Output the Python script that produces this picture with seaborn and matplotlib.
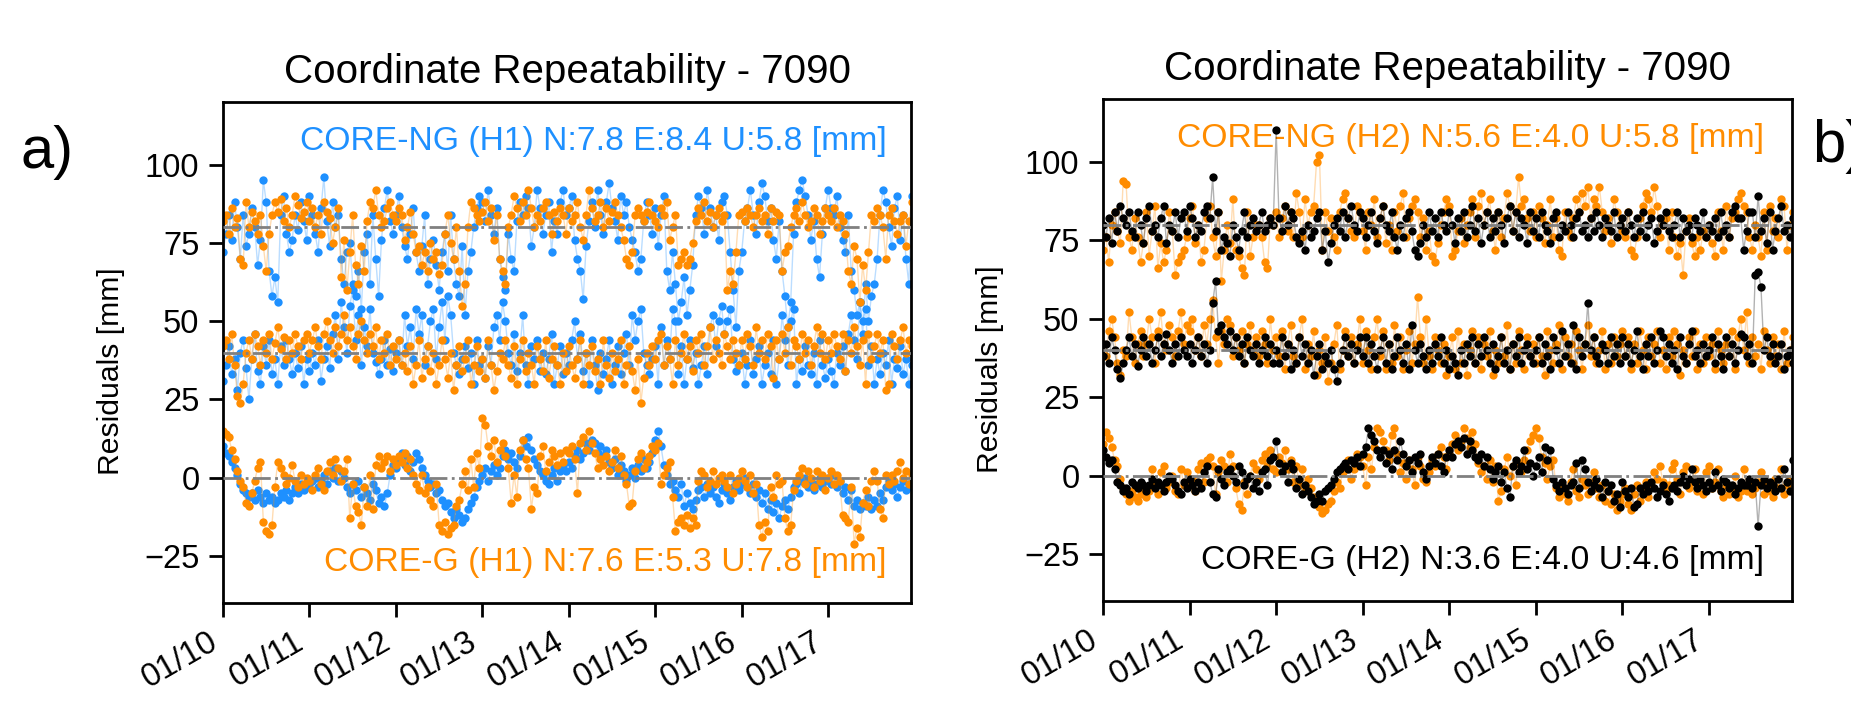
import matplotlib
matplotlib.use("Agg")
import matplotlib.dates as mdates
import matplotlib.pyplot as plt
import pandas as pd
import seaborn as sns

# --- valores (30 amostras por dia, 8 dias) ---
h1_ng_n = [72,78,84,76,88,80,70,84,74,78,86,80,68,76,95,88,66,58,64,56,84,90,78,72,76,84,79,88,82,76,
           90,84,78,72,86,96,82,74,88,80,84,70,62,72,75,62,58,66,54,72,78,62,84,70,58,76,86,92,82,78,
           84,90,80,74,70,78,86,72,66,74,84,62,70,76,68,60,72,78,66,84,70,62,58,74,52,66,72,80,86,90,
           88,82,92,84,78,86,70,64,60,78,70,66,82,88,84,90,86,74,80,92,86,78,84,88,72,82,78,88,92,84,
           86,90,76,70,66,57,74,82,88,80,92,84,78,88,94,86,82,76,90,84,88,80,76,72,66,70,82,88,84,78,
           86,74,84,90,66,60,72,62,50,56,64,52,60,68,84,90,86,78,92,86,80,84,76,88,90,84,72,60,48,66,
           72,82,86,92,84,78,88,94,90,82,86,76,70,82,66,58,48,56,78,88,92,95,90,84,76,82,70,64,78,86,
           92,86,84,90,80,76,72,84,66,60,52,56,46,62,50,58,62,70,84,92,88,80,74,86,90,76,84,70,62,90]
h1_ng_e = [31,36,42,33,38,28,40,44,35,25,38,46,34,30,42,36,44,33,38,30,42,36,44,38,33,40,35,42,30,38,
           34,40,36,44,31,38,42,35,46,52,38,56,48,40,55,60,44,52,36,48,42,54,40,37,33,38,44,36,41,34,
           40,44,36,52,42,48,38,54,46,52,36,42,50,54,38,48,56,44,58,52,40,36,33,38,42,35,40,30,44,36,
           38,32,42,36,48,52,44,56,50,40,36,46,34,40,52,36,30,42,38,44,34,40,33,38,46,30,36,42,33,40,
           36,44,50,38,46,34,40,30,44,36,28,40,33,38,44,30,36,42,33,40,46,36,52,44,50,54,40,36,33,38,
           42,30,48,36,44,38,54,50,33,42,30,38,44,35,40,30,36,42,33,48,52,42,50,55,46,50,54,38,34,36,
           40,30,36,44,33,38,42,30,36,40,33,44,30,38,52,44,36,50,54,30,38,34,42,36,33,40,30,44,36,32,
           38,34,30,40,36,42,34,46,52,44,38,56,50,54,36,42,30,38,33,40,36,44,30,38,35,42,33,38,30,36]
h1_ng_u = [10,8,7,5,3,1,-2,-4,-5,-6,-5,-7,-4,-6,-8,-5,-7,-6,-8,-7,-5,-6,-4,-7,-5,-3,-5,-2,-4,-3,
           -2,-1,0,-3,-1,1,-2,2,0,3,-1,2,0,-3,-5,-2,-4,-1,-6,-3,-5,-7,-2,-4,-8,-6,-9,-5,1,4,
           3,6,8,4,7,2,5,8,6,3,1,-1,-3,-2,-5,-4,-7,-9,-8,-11,-13,-10,-12,-14,-13,-10,-8,-6,-3,-1,
           1,3,-1,2,4,1,3,7,9,6,8,5,3,7,12,10,13,9,6,4,2,1,-1,-2,1,3,-1,2,4,2,
           5,3,7,9,6,8,11,9,12,11,8,10,7,9,5,3,6,1,4,2,-1,1,3,0,4,2,6,3,5,8,
           12,15,10,4,1,-2,-1,-4,-6,-2,-9,-5,-8,-10,-7,-4,-3,-6,-2,-5,-3,-6,-8,-4,-2,-5,-7,-3,-1,-4,
           -2,0,-3,-5,-2,-6,-4,-8,-5,-10,-7,-11,-8,-13,-9,-7,-10,-6,-3,-2,-5,-1,0,-3,-1,-4,-2,0,-3,-1,
           0,-2,1,-3,-1,-5,-3,-7,-4,-9,-7,-10,-8,-9,-6,-10,-7,-9,-5,-7,-3,-1,-4,-2,-6,-3,-1,-4,-2,-3]
h1_g_n = [82,84,78,86,80,83,70,68,88,80,85,82,78,84,74,66,78,84,88,85,89,82,86,80,84,90,87,83,85,88,
          82,86,80,84,78,88,85,83,75,80,86,64,76,60,72,84,68,62,74,66,82,88,86,92,84,80,82,86,88,84,
          82,86,84,76,80,85,78,72,74,68,72,66,75,70,72,65,68,78,84,75,70,80,66,55,62,80,88,86,84,82,
          85,88,82,86,76,84,70,66,62,80,84,90,86,82,88,84,92,86,80,84,82,86,88,84,78,85,82,86,84,78,
          86,82,84,88,80,76,84,92,86,82,84,88,80,86,82,85,88,84,80,76,70,68,72,84,86,84,82,85,88,84,
          82,80,86,84,88,76,80,84,68,70,72,68,70,75,82,86,84,88,82,85,80,84,86,82,84,60,66,62,72,84,
          85,82,86,84,80,84,86,82,84,78,86,82,85,84,66,72,74,80,84,86,82,88,84,80,82,86,84,78,82,86,
          84,82,86,80,84,82,78,66,62,74,70,56,68,60,72,84,82,86,84,80,70,84,86,82,78,82,84,74,82,88]
h1_g_e = [42,44,38,46,36,26,24,30,40,44,38,46,42,36,44,40,46,38,43,48,41,45,38,44,40,46,42,38,44,46,
          40,44,48,42,38,46,50,44,40,48,42,46,52,44,48,42,38,46,50,44,40,46,42,48,38,44,40,46,36,42,
          38,44,36,40,34,42,30,36,44,32,38,42,34,40,30,36,44,38,32,40,28,36,42,34,38,44,30,36,42,34,
          38,32,44,36,28,34,40,38,44,36,32,42,30,38,44,34,40,36,30,42,38,34,44,32,38,42,36,30,40,34,
          42,36,32,38,44,30,40,36,42,34,38,30,44,36,32,40,34,38,44,30,36,42,34,28,38,24,32,40,36,42,
          38,44,46,36,42,38,30,44,36,40,46,38,42,34,44,40,46,36,42,48,38,44,40,36,46,42,38,44,40,36,
          44,38,46,42,36,48,40,44,38,46,42,32,44,38,46,40,48,36,44,42,38,46,40,44,36,42,48,40,46,38,
          44,40,46,42,38,46,34,44,40,48,42,36,44,30,46,38,42,46,40,44,28,30,46,42,38,44,48,40,44,42]
h1_g_u = [15,14,13,9,6,2,-1,-3,-8,-9,-5,-1,3,5,-14,-17,-18,-15,-3,5,3,1,-2,0,4,-1,-3,1,-2,0,
          -1,-4,1,3,-2,-4,2,5,1,6,3,-1,2,6,-13,-2,-9,-11,-15,-3,-9,1,-10,4,7,3,5,7,2,6,
          4,7,5,8,3,6,1,-2,-4,1,-5,-3,-7,-9,-2,-15,-17,-14,-18,-16,-15,-9,-7,-2,2,-4,6,-3,8,3,
          19,17,10,7,12,5,9,11,7,3,-8,1,-6,9,12,6,3,-10,-3,-5,7,10,2,5,9,7,4,8,5,9,
          8,10,6,-5,11,13,9,15,11,8,3,6,4,7,2,5,9,3,7,1,-2,-9,-8,2,6,8,3,5,7,10,
          9,11,-2,1,3,5,-6,-17,-14,-13,-15,-12,-16,-13,-15,-1,2,1,-3,-1,2,-2,0,1,-1,-3,1,-5,-2,0,
          2,-1,-3,1,-5,-2,-15,-19,-14,-17,-3,-6,1,-2,-1,-13,-17,-15,-4,-1,1,3,-2,2,0,-3,2,-1,1,-4,
          0,2,-2,1,-1,-12,-13,-14,-3,-21,-16,-19,-8,-4,-9,-1,2,-1,-10,-13,1,-2,1,-1,2,5,0,2,-2,1]

h2_ng_n = [72,76,68,80,84,78,74,94,93,76,72,82,76,68,74,84,70,78,86,66,74,68,72,84,78,64,68,70,72,76,
           82,86,74,80,68,72,82,86,76,70,84,62,72,80,74,88,72,70,66,64,84,70,76,80,80,76,68,66,82,80,
           84,76,82,86,78,84,76,90,84,76,88,80,84,86,100,102,72,84,78,82,76,72,84,88,90,82,78,76,86,84,
           78,72,84,80,88,76,82,86,74,80,72,84,78,86,90,76,82,86,88,84,76,82,72,78,70,68,74,80,84,88,
           86,70,72,78,82,74,80,84,88,76,86,90,80,84,88,78,72,84,76,82,90,86,78,84,95,86,88,82,78,84,
           76,86,82,74,80,88,76,82,72,70,84,78,76,82,88,84,90,86,92,82,88,86,92,84,78,82,74,88,84,80,
           78,76,84,72,70,76,82,86,90,88,84,92,86,76,80,82,72,84,76,70,74,64,78,82,74,70,76,72,78,76,
           80,74,70,84,78,72,86,76,82,84,88,90,86,84,76,72,80,76,70,84,72,86,78,82,76,88,86,72,80,84]
h2_ng_e = [42,38,46,50,44,36,32,40,38,52,44,36,42,46,38,42,50,44,36,46,52,42,40,48,44,38,46,52,42,48,
           46,50,40,44,38,48,42,50,56,44,36,46,42,50,48,38,44,40,46,36,42,48,40,44,38,46,42,36,50,40,
           44,38,46,34,42,48,38,36,44,50,34,42,38,46,32,40,36,44,30,36,42,48,34,40,46,38,44,36,42,50,
           36,46,40,34,44,50,38,46,34,42,36,48,38,44,34,40,46,36,42,57,44,36,50,38,34,44,40,36,42,32,
           38,44,34,46,36,42,32,40,46,36,44,34,42,38,46,32,40,36,44,38,48,34,42,36,46,40,34,44,38,42,
           36,44,38,32,46,40,36,42,48,34,44,38,42,36,46,40,34,42,48,38,44,36,40,46,34,42,36,44,38,42,
           46,38,44,34,42,36,46,40,34,44,38,42,46,36,40,34,44,38,46,42,32,40,36,44,38,46,34,42,36,44,
           38,42,34,46,40,36,42,38,46,34,44,50,40,52,36,44,38,42,34,46,40,36,44,38,42,34,46,36,40,44]
h2_ng_u = [10,14,12,9,5,3,-1,-4,-6,-8,-5,-7,-8,-6,-4,-7,-5,2,-3,-6,1,3,-4,-2,0,-5,-6,2,-3,1,
           -3,-1,-5,2,4,-2,5,6,3,-6,1,5,3,-2,7,3,-4,-9,-11,-2,-6,0,4,2,-1,5,7,3,8,2,
           1,6,4,8,2,5,-2,3,-3,2,-5,-1,-4,-7,-9,-10,-12,-11,-9,-8,-5,-2,-4,1,3,5,-1,2,7,6,
           3,-3,6,2,9,15,14,11,8,5,13,15,7,1,4,-1,5,2,-3,6,3,-1,-2,1,5,3,7,9,6,2,
           7,10,13,8,11,15,12,9,14,10,4,1,3,-1,5,-2,3,-8,-5,2,6,0,3,-3,4,1,5,8,11,13,
           15,12,6,4,-1,3,5,-4,-7,-3,-6,-8,-2,2,-5,-7,-1,-3,-6,-2,1,-4,-7,-3,-8,-5,-9,-6,-11,-8,
           -6,-4,-9,-11,-6,-3,-8,-5,-2,-7,-3,1,-1,3,-2,-5,-3,2,4,-1,-6,1,3,-4,-2,2,-5,-3,-6,1,
           3,-4,-2,2,-5,-7,-3,-6,-4,0,-7,-5,2,-5,-3,-6,-4,-2,1,-6,-3,-5,-7,-1,-4,2,-6,-3,-1,-5]
h2_g_n = [80,76,82,74,84,78,86,82,80,84,78,76,84,80,74,82,86,78,80,76,82,86,74,80,78,84,76,82,84,78,
          86,82,76,80,78,84,86,82,95,78,84,72,76,74,70,80,76,72,78,84,76,80,82,78,80,84,78,80,82,80,
          110,82,78,86,80,84,82,76,74,78,72,80,76,78,82,84,72,78,68,74,80,82,78,84,76,82,86,80,78,84,
          82,76,80,84,78,74,82,86,80,78,84,76,72,80,76,82,84,78,72,70,74,80,76,84,78,82,76,84,80,78,
          84,80,74,82,78,84,76,80,86,78,82,74,80,84,76,82,78,84,80,74,82,86,78,84,76,82,80,74,84,78,
          82,76,84,80,78,74,82,84,76,80,78,84,80,76,82,84,78,80,76,82,78,84,80,76,82,80,78,84,76,80,
          82,78,84,80,76,82,78,84,76,80,82,74,78,82,80,84,78,76,80,84,76,82,78,80,76,82,80,78,84,76,
          80,78,82,76,84,78,80,76,84,86,82,82,72,78,84,84,76,89,78,82,74,84,72,78,82,86,78,80,76,82]
h2_g_e = [38,42,36,44,40,34,31,36,40,44,38,42,35,40,44,38,42,36,40,44,38,42,45,40,36,42,38,44,40,38,
          42,36,40,44,38,42,36,40,55,62,46,48,44,42,46,40,44,38,42,36,44,40,38,42,36,40,44,38,42,36,
          40,36,44,38,42,34,40,36,44,38,42,36,40,32,38,42,34,38,36,40,34,30,36,40,44,38,42,36,40,44,
          38,44,36,42,38,34,40,44,36,42,34,38,44,40,36,42,34,48,40,36,42,38,34,40,36,42,38,44,36,40,
          34,38,36,32,40,36,42,38,44,36,42,38,44,40,36,42,34,38,44,36,40,34,42,38,44,36,40,42,38,36,
          40,44,36,42,38,34,44,40,36,46,38,42,36,48,34,44,38,42,55,40,44,38,36,42,40,36,44,38,42,36,
          44,38,42,36,40,46,38,34,42,38,44,36,40,46,44,38,42,36,40,34,44,38,36,42,46,38,40,36,42,38,
          40,44,36,42,38,34,44,38,42,36,40,45,44,38,42,36,64,65,60,40,44,38,42,36,38,42,34,38,40,36]
h2_g_u = [8,6,4,5,2,-2,-3,-5,-4,-6,-2,-3,-4,-2,-3,-5,-3,-1,-4,-2,-3,-5,-2,0,-1,-3,-5,-6,-2,-4,
          -1,-3,-5,-2,-4,1,3,-2,-6,-7,2,-1,-3,1,2,0,-2,3,1,-3,-1,0,-4,-2,-5,1,2,-3,5,6,
          11,4,1,3,-2,4,2,-4,-1,-6,-3,-5,-7,-9,-8,-6,-8,-5,-4,-3,-1,1,2,3,4,2,5,4,6,3,
          7,9,15,13,11,8,6,8,4,7,2,8,5,11,7,3,5,1,6,4,7,1,-1,3,6,4,7,3,1,6,
          8,6,10,11,9,12,7,11,8,6,5,7,3,6,2,-1,1,3,-2,1,-4,-7,3,5,1,3,8,2,4,0,
          3,6,1,9,5,8,-1,-3,-5,-2,-4,-6,-3,-2,4,-4,5,2,-2,-5,-3,-1,-4,-7,-2,-5,-3,-8,-6,-10,
          -2,-5,-7,-4,-10,-9,-4,-6,-3,-5,-2,-4,-7,-5,-3,-6,-8,-4,-3,-5,-2,0,-3,-1,2,-2,-4,-1,-3,-5,
          -2,-4,1,-3,-5,-1,-2,-4,-3,-6,-4,-2,-3,-3,-1,-4,-2,-16,-3,-1,-4,-2,-3,-5,-1,-4,2,-2,-5,5]

referencias = [80, 40, 0]
ticks_y = [-25, 0, 25, 50, 75, 100]

AZUL = "#1E90FF"
LARANJA = "#FF8C00"
PRETO = "#000000"
W, H = 1851, 710


def desenha_serie(ax, valores, cor):
    """Linha fina e pontos de uma componente."""
    tempos = pd.date_range("2021-01-10 00:00", periods=len(valores), freq="48min")
    sns.lineplot(x=tempos, y=valores, ax=ax, color=cor, lw=1.0, alpha=0.3,
                 estimator=None, errorbar=None, zorder=2)
    sns.scatterplot(x=tempos, y=valores, ax=ax, color=cor, s=36, linewidth=0,
                    alpha=1, zorder=2)


def monta_painel(rect, grupos, txt_cima, cor_cima, x_cima, txt_baixo, cor_baixo):
    x0, x1, y0, y1 = rect
    ax = fig.add_axes([x0 / W, 1 - y1 / H, (x1 - x0) / W, (y1 - y0) / H])
    for series, cor in grupos:
        for s in series:
            desenha_serie(ax, s, cor)
    for r in referencias:
        ax.axhline(r, color="gray", ls="-.", lw=2.0, zorder=3)

    ax.set_ylim(-40, 120)
    ax.set_xlim(pd.Timestamp("2021-01-10 00:00"), pd.Timestamp("2021-01-17 23:00"))
    ax.set_yticks(ticks_y)
    ax.xaxis.set_major_locator(mdates.DayLocator())
    ax.xaxis.set_major_formatter(mdates.DateFormatter("%m/%d"))
    ax.tick_params(axis="both", labelsize=23.5, width=2, length=10, pad=7, colors="black")
    plt.setp(ax.get_xticklabels(), rotation=30, ha="right")
    ax.set_xlabel("")
    ax.set_ylabel("Residuals [mm]", fontsize=21.7, color="black")
    ax.yaxis.set_label_coords(-0.143, 0.462)
    ax.set_title("Coordinate Repeatability - 7090", fontsize=29, pad=14, color="black")
    for sp in ax.spines.values():
        sp.set_linewidth(2)
        sp.set_color("black")
    ax.text(x_cima, 0.922, txt_cima, color=cor_cima, fontsize=24.2, ha="right",
            va="center", transform=ax.transAxes, zorder=1)
    ax.text(x_cima, 0.08, txt_baixo, color=cor_baixo, fontsize=24.2, ha="right",
            va="center", transform=ax.transAxes, zorder=4)
    return ax


sns.set_theme(style="ticks")
plt.rcParams["font.family"] = ["Liberation Sans", "DejaVu Sans"]
fig = plt.figure(figsize=(W / 100, H / 100), dpi=100)

monta_painel((223, 911, 102, 603),
             [((h1_ng_n, h1_ng_e, h1_ng_u), AZUL), ((h1_g_n, h1_g_e, h1_g_u), LARANJA)],
             "CORE-NG (H1) N:7.8 E:8.4 U:5.8 [mm]", AZUL, 0.965,
             "CORE-G (H1) N:7.6 E:5.3 U:7.8 [mm]", LARANJA)
monta_painel((1103, 1792, 99, 601),
             [((h2_ng_n, h2_ng_e, h2_ng_u), LARANJA), ((h2_g_n, h2_g_e, h2_g_u), PRETO)],
             "CORE-NG (H2) N:5.6 E:4.0 U:5.8 [mm]", LARANJA, 0.96,
             "CORE-G (H2) N:3.6 E:4.0 U:4.6 [mm]", PRETO)

fig.text(20 / W, 1 - 152 / H, "a)", fontsize=43, va="center", ha="left", color="black")
fig.text(1812 / W, 1 - 147 / H, "b)", fontsize=43, va="center", ha="left", color="black")

fig.savefig("out.png", dpi=100)
